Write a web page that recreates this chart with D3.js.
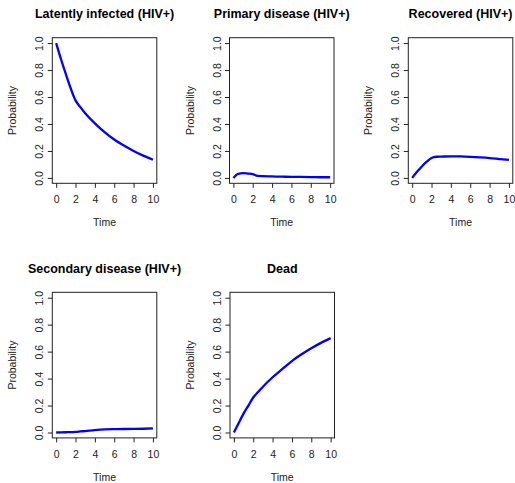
<!DOCTYPE html>
<html>
<head>
<meta charset="utf-8">
<script src="https://d3js.org/d3.v7.min.js"></script>
<style>
  body { margin:0; background:#fff; }
  svg { display:block; font-family: "Liberation Sans", Arial, sans-serif; }
  .tick text { fill:#222; font-size:10.5px; }
  .ttl { font-weight:bold; font-size:12.5px; fill:#000; }
  .lab { font-size:10.5px; fill:#222; }
</style>
</head>
<body>
<script>
var width = 515, height = 483;

var times = [0, 0.5, 1, 1.5, 2, 2.5, 3, 4, 5, 6, 7, 8, 9, 10];
var titles = ["Latently infected (HIV+)", "Primary disease (HIV+)", "Recovered (HIV+)",
              "Secondary disease (HIV+)", "Dead"];
var latent    = [1.0, 0.88, 0.77, 0.665, 0.575, 0.525, 0.48, 0.405, 0.34, 0.285, 0.24, 0.2, 0.165, 0.135];
var primary   = [0.0, 0.03, 0.035, 0.032, 0.028, 0.015, 0.013, 0.011, 0.009, 0.008, 0.007, 0.006, 0.005, 0.005];
var recovered = [0.0, 0.045, 0.085, 0.12, 0.148, 0.157, 0.158, 0.16, 0.159, 0.156, 0.152, 0.147, 0.14, 0.133];
var secondary = [0.0, 0.001, 0.002, 0.003, 0.005, 0.008, 0.011, 0.018, 0.023, 0.025, 0.026, 0.027, 0.028, 0.03];
var dead      = [0.0, 0.07, 0.14, 0.2, 0.26, 0.3, 0.34, 0.41, 0.47, 0.53, 0.58, 0.625, 0.665, 0.70];
var series = [latent, primary, recovered, secondary, dead];
var xTicks = [0, 2, 4, 6, 8, 10];
var yTicks = [0, 0.2, 0.4, 0.6, 0.8, 1.0];

// plot box of each panel (left, top)
var boxes = [[52.3, 37.7], [229.5, 37.7], [408.3, 37.7], [52.3, 292.3], [230, 292.3]];
var bw = 104.5, bh = 145.6;

var svg = d3.select("body").append("svg")
    .attr("width", width)
    .attr("height", height);

series.forEach(function(vals, i) {
  var g = svg.append("g").attr("transform", "translate(" + boxes[i][0] + "," + boxes[i][1] + ")");
  var x = d3.scaleLinear().domain([-0.4, 10.4]).range([0, bw]);
  var y = d3.scaleLinear().domain([-0.04, 1.04]).range([bh, 0]);

  var xa = g.append("g").attr("transform", "translate(0," + bh + ")")
      .call(d3.axisBottom(x).tickValues(xTicks).tickSize(4.5).tickPadding(8).tickFormat(d3.format("d")));
  var ya = g.append("g")
      .call(d3.axisLeft(y).tickValues(yTicks).tickSize(4.5).tickPadding(4).tickFormat(d3.format(".1f")));
  [xa, ya].forEach(function(a) {
    a.select(".domain").remove();
    a.selectAll("line").attr("stroke", "#222");
  });
  ya.selectAll(".tick text")
      .attr("text-anchor", "middle")
      .attr("transform", "translate(-12.5,0) rotate(-90)")
      .attr("x", 0).attr("dy", "0.35em");

  g.append("rect").attr("width", bw).attr("height", bh)
      .attr("fill", "none").attr("stroke", "#222").attr("stroke-width", 1);

  var line = d3.line()
      .x(function(d, k) { return x(times[k]); })
      .y(function(d) { return y(d); })
      .curve(d3.curveMonotoneX);
  g.append("path").datum(vals)
      .attr("d", line)
      .attr("fill", "none")
      .attr("stroke", "#0000ff")
      .attr("stroke-width", 2.3);

  g.append("text").attr("class", "ttl")
      .attr("x", bw / 2).attr("y", -19.3)
      .attr("text-anchor", "middle").text(titles[i]);
  g.append("text").attr("class", "lab")
      .attr("x", bw / 2).attr("y", 188.5)
      .attr("text-anchor", "middle").text("Time");
  g.append("text").attr("class", "lab")
      .attr("transform", "translate(-36," + (bh / 2) + ") rotate(-90)")
      .attr("text-anchor", "middle").text("Probability");
});
</script>
</body>
</html>
